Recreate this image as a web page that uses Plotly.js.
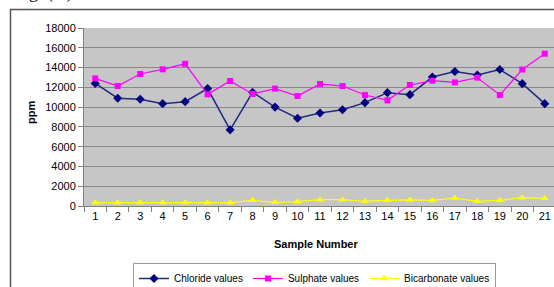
<!DOCTYPE html>
<html>
<head>
<meta charset="utf-8">
<script src="https://cdn.plot.ly/plotly-3.0.1.min.js"></script>
<style>
html,body{margin:0;padding:0;background:#fff;overflow:hidden;width:554px;height:287px;}
#chart{width:556px;height:287px;}
</style>
</head>
<body>
<div id="chart"></div>
<script>
const samples = ['1','2','3','4','5','6','7','8','9','10','11','12','13','14','15','16','17','18','19','20','21'];
const chloride = [12400,10900,10800,10350,10550,11870,7700,11500,10000,8870,9400,9740,10450,11460,11260,13040,13600,13250,13800,12370,10350];
const sulphate = [12900,12130,13350,13820,14380,11290,12640,11330,11870,11120,12340,12130,11220,10690,12240,12670,12500,12980,11220,13800,15400];
const bicarbonate = [350,350,350,350,350,350,350,570,370,440,640,640,470,570,610,560,810,470,570,840,780];
const yTicks = [0,2000,4000,6000,8000,10000,12000,14000,16000,18000];

const traces = [
  {x: samples, y: chloride, name: 'Chloride values', type: 'scatter', mode: 'lines+markers',
   line: {color: '#1f2a80', width: 1.5}, marker: {symbol: 'diamond', color: '#000080', size: 7}},
  {x: samples, y: sulphate, name: 'Sulphate values', type: 'scatter', mode: 'lines+markers',
   line: {color: '#ff00ff', width: 1.2}, marker: {symbol: 'square', color: '#ff00ff', size: 6}},
  {x: samples, y: bicarbonate, name: 'Bicarbonate values', type: 'scatter', mode: 'lines+markers',
   line: {color: '#ffff00', width: 1.2}, marker: {symbol: 'triangle-up', color: '#ffff00', size: 7}}
];

const L = 84, T = 28, B = 206, W = 556, H = 287;
const pw = W - L, ph = B - T;
const px = v => (v - L) / pw;
const py = v => (B - v) / ph;

const layout = {
  width: W, height: H,
  margin: {l: L, r: 0, t: T, b: H - B, pad: 0, autoexpand: false},
  paper_bgcolor: '#ffffff',
  plot_bgcolor: '#c6c6c6',
  font: {family: 'Arial, "Liberation Sans", sans-serif', size: 11, color: '#000'},
  showlegend: true,
  xaxis: {
    type: 'category', categoryorder: 'array', categoryarray: samples,
    range: [-0.5, 20.5], tickson: 'boundaries', ticks: 'outside', ticklen: 5, tickcolor: '#808080',
    showline: true, linecolor: '#808080', linewidth: 1, showgrid: false, zeroline: false,
    tickfont: {size: 11}, fixedrange: true, automargin: false
  },
  yaxis: {
    range: [0, 18000], tickvals: yTicks, ticktext: yTicks.map(String),
    ticks: 'outside', ticklen: 5, tickcolor: '#808080',
    showline: true, linecolor: '#808080', linewidth: 1,
    showgrid: true, gridcolor: '#8a8a8a', gridwidth: 1, zeroline: false,
    tickfont: {size: 11}, fixedrange: true, automargin: false
  },
  legend: {
    orientation: 'h', xref: 'container', yref: 'container',
    x: 133 / W, y: 1 - 263 / H, xanchor: 'left', yanchor: 'top',
    bordercolor: '#999999', borderwidth: 1, bgcolor: '#ffffff',
    font: {size: 10}, itemwidth: 30, tracegroupgap: 0
  },
  annotations: [
    {text: '<b>Sample Number</b>', xref: 'paper', yref: 'paper', x: px(316), y: py(244),
     xanchor: 'center', yanchor: 'middle', showarrow: false, font: {size: 11}},
    {text: '<b>ppm</b>', xref: 'paper', yref: 'paper', x: px(31), y: py(113),
     xanchor: 'center', yanchor: 'middle', showarrow: false, textangle: -90, font: {size: 11}},
    {text: 'g  (   )', xref: 'paper', yref: 'paper', x: px(27), y: py(5),
     xanchor: 'left', yanchor: 'bottom', showarrow: false,
     font: {family: '"Liberation Serif", serif', size: 18, color: '#000'}}
  ],
  shapes: [
    {type: 'rect', xref: 'paper', yref: 'paper', x0: px(10.5), x1: px(600), y0: py(330), y1: py(9.5),
     line: {color: '#555555', width: 1.5}, fillcolor: 'rgba(0,0,0,0)', layer: 'below'}
  ]
};

Plotly.newPlot('chart', traces, layout, {displayModeBar: false, staticPlot: true});
</script>
</body>
</html>
